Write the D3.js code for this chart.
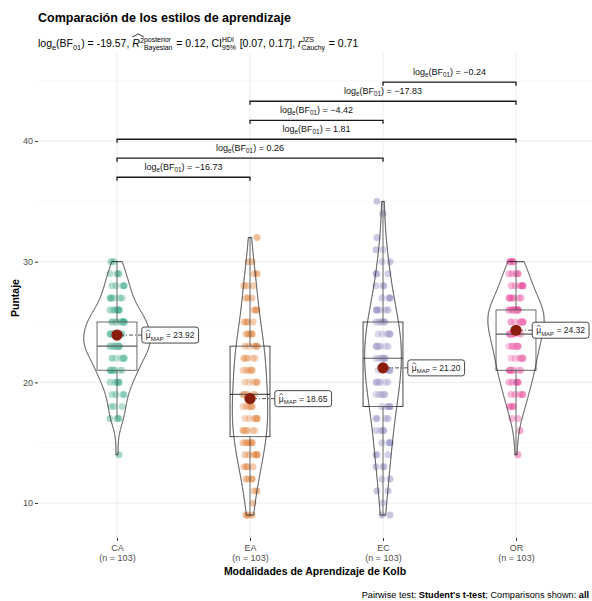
<!DOCTYPE html>
<html>
<head>
<meta charset="utf-8">
<script src="https://cdn.jsdelivr.net/npm/d3@7"></script>
<style>
  body { margin: 0; background: #fff; }
  svg { display: block; }
  text { font-family: "Liberation Sans", Arial, Helvetica, sans-serif; }
</style>
</head>
<body>
<svg id="chart" width="592" height="601"></svg>
<script>
// ---- data ----
const categories = ["CA", "EA", "EC", "OR"];
const groupN = [103, 103, 103, 103];
const palette = ["#1B9E77", "#D95F02", "#7570B3", "#E7298A"];

// observed scores and how many students obtained each one
const caScores = [14, 17, 18, 19, 20, 21, 22, 23, 24, 25, 26, 27, 28, 29, 30];
const caCounts = [1, 4, 3, 4, 6, 9, 9, 16, 12, 14, 8, 6, 5, 4, 2];
const eaScores = [9, 10, 11, 12, 13, 14, 15, 16, 17, 18, 19, 20, 21, 22, 23, 24, 25, 26, 27, 28, 29, 30, 32];
const eaCounts = [3, 1, 2, 4, 4, 6, 6, 7, 8, 7, 7, 6, 7, 6, 6, 5, 4, 3, 3, 3, 2, 2, 1];
const ecScores = [9, 10, 11, 12, 13, 14, 15, 16, 17, 18, 19, 20, 21, 22, 23, 24, 25, 26, 27, 28, 29, 30, 31, 32, 34, 35];
const ecCounts = [2, 1, 2, 2, 3, 3, 4, 4, 4, 6, 6, 7, 7, 8, 8, 7, 6, 6, 4, 3, 3, 2, 2, 1, 1, 1];
const orScores = [14, 16, 17, 18, 19, 20, 21, 22, 23, 24, 25, 26, 27, 28, 29, 30];
const orCounts = [1, 1, 2, 4, 5, 6, 8, 8, 9, 11, 11, 14, 7, 7, 5, 4];

// Bayesian posterior estimates (MAP) of each group mean
const mapMeans = [23.92, 18.65, 21.20, 24.32];

// pairwise comparisons: log_e(BF01) and bracket height (score units)
const pairFrom = ["CA", "CA", "CA", "EA", "EA", "EC"];
const pairTo = ["EA", "EC", "OR", "EC", "OR", "OR"];
const pairLogBF = [-16.73, 0.26, 1.81, -4.42, -17.83, -0.24];
const pairBracketY = [37.0, 38.58, 40.15, 41.72, 43.3, 44.88];

const yTicks = [10, 20, 30, 40];
const yMinorTicks = [15, 25, 35, 45];

// ---- layout ----
const svg = d3.select("#chart");
const W = 592, H = 601;
const panel = { left: 38, right: 592, top: 52, bottom: 538 };
svg.append("rect").attr("width", W).attr("height", H).attr("fill", "#fff");

const x = d3.scalePoint().domain(categories).range([117, 516]);
const step = x.step();
const y = d3.scaleLinear().domain([7.1, 47.38]).range([panel.bottom, panel.top]);

const fmt = v => (v < 0 ? "\u2212" : "") + Math.abs(v).toFixed(2);
const nb = s => s.replace(/ /g, "\u00A0");

// rich text: sequential pieces with sub/superscripts, stacked scripts and hats
function rich(parent, parts, size, fill, stackScale) {
  const g = parent.append("g").attr("fill", fill || "#000");
  let cx = 0, hatStart = 0;
  const len = t => t.node().getComputedTextLength();
  for (const p of parts) {
    if (p.stack) {
      const fs = size * (stackScale || 0.62);
      const a = g.append("text").attr("x", cx).attr("y", -size * 0.45).attr("font-size", fs).text(nb(p.stack[0]));
      const b = g.append("text").attr("x", cx).attr("y", size * 0.32).attr("font-size", fs).text(nb(p.stack[1]));
      cx += Math.max(len(a), len(b)) + size * 0.08;
      continue;
    }
    if (p.hatFrom) hatStart = cx;
    const small = p.sub || p.sup;
    const fs = small ? size * 0.7 : size;
    const dy = p.sub ? size * 0.3 : (p.sup ? -size * 0.42 : 0);
    const t = g.append("text").attr("x", cx).attr("y", dy).attr("font-size", fs).text(nb(p.t));
    if (p.bold) t.attr("font-weight", "bold");
    if (p.italic) t.attr("font-style", "italic");
    const w = len(t);
    if (p.hat) {
      g.append("path")
        .attr("d", `M${cx + 0.5},${-size * 0.78} Q${cx + w / 2},${-size * 1.12} ${cx + w - 0.5},${-size * 0.78}`)
        .attr("fill", "none").attr("stroke", fill || "#000").attr("stroke-width", 0.7);
    }
    cx += w;
    if (p.hatTo) {
      g.append("path")
        .attr("d", `M${hatStart},${-size * 0.95} L${(hatStart + cx) / 2},${-size * 1.25} L${cx},${-size * 0.95}`)
        .attr("fill", "none").attr("stroke", fill || "#000").attr("stroke-width", 0.8);
    }
  }
  g.width = cx;
  return g;
}

// ---- grid ----
const grid = svg.append("g");
grid.selectAll("line.minor").data(yMinorTicks).join("line")
  .attr("x1", panel.left).attr("x2", panel.right)
  .attr("y1", d => y(d)).attr("y2", d => y(d))
  .attr("stroke", "#f3f3f3").attr("stroke-width", 0.6);
grid.selectAll("line.major").data(yTicks).join("line")
  .attr("x1", panel.left).attr("x2", panel.right)
  .attr("y1", d => y(d)).attr("y2", d => y(d))
  .attr("stroke", "#ebebeb").attr("stroke-width", 0.9);
grid.selectAll("line.vert").data(categories).join("line")
  .attr("x1", d => x(d)).attr("x2", d => x(d))
  .attr("y1", panel.top).attr("y2", panel.bottom)
  .attr("stroke", "#ebebeb").attr("stroke-width", 0.9);

// ---- axes ----
const yAxis = svg.append("g").attr("transform", `translate(${panel.left},0)`)
  .call(d3.axisLeft(y).tickValues(yTicks).tickSize(3).tickPadding(2));
yAxis.select(".domain").remove();
yAxis.selectAll(".tick line").attr("stroke", "#333");
yAxis.selectAll(".tick text").attr("fill", "#4d4d4d").attr("font-size", 9)
  .attr("font-family", "Liberation Sans, Arial, sans-serif");

const xAxis = svg.append("g").attr("transform", `translate(0,${panel.bottom})`)
  .call(d3.axisBottom(x).tickSize(3).tickFormat(""));
xAxis.select(".domain").remove();
xAxis.selectAll(".tick line").attr("stroke", "#333");
xAxis.selectAll(".tick").each(function (d, i) {
  const t = d3.select(this).append("text").attr("fill", "#4d4d4d").attr("font-size", 9)
    .attr("text-anchor", "middle").attr("font-family", "Liberation Sans, Arial, sans-serif");
  t.append("tspan").attr("x", 0).attr("y", 13).text(d);
  t.append("tspan").attr("x", 0).attr("y", 23).text(`(n = ${groupN[i]})`);
});

svg.append("text").attr("x", (panel.left + panel.right) / 2).attr("y", 575)
  .attr("text-anchor", "middle").attr("font-size", 10.5).attr("font-weight", "bold")
  .text("Modalidades de Aprendizaje de Kolb");
svg.append("text").attr("transform", "translate(19,298) rotate(-90)")
  .attr("text-anchor", "middle").attr("font-size", 10.5).attr("font-weight", "bold")
  .text("Puntaje");

// ---- groups ----
const scoreSets = [caScores, eaScores, ecScores, orScores];
const countSets = [caCounts, eaCounts, ecCounts, orCounts];
const groups = categories.map((c, i) => {
  const values = [];
  scoreSets[i].forEach((s, j) => { for (let k = 0; k < countSets[i][j]; k++) values.push(s); });
  values.sort(d3.ascending);
  return { cat: c, values, color: palette[i], mean: mapMeans[i], scores: scoreSets[i], counts: countSets[i] };
});

// horizontal spread (px) of points sharing the same score
const jitter = [-3, 4, 1, -6, 6, -2, 5, -5, 2, -7, 7, -4, 3, -1, 2, -6, 6, 0, -3, 7, -7];

const pointLayer = svg.append("g");
groups.forEach((gr, gi) => {
  const pts = [];
  gr.scores.forEach((s, j) => {
    const shift = (s * 7 + gi * 5) % jitter.length;
    for (let k = 0; k < gr.counts[j]; k++) pts.push({ s, off: jitter[(k * 3 + shift) % jitter.length] });
  });
  pointLayer.append("g").selectAll("circle").data(pts).join("circle")
    .attr("cx", d => x(gr.cat) + d.off)
    .attr("cy", d => y(d.s))
    .attr("r", 3.5)
    .attr("fill", gr.color).attr("fill-opacity", 0.4);
});

// box statistics
groups.forEach(gr => {
  const v = gr.values;
  gr.q1 = d3.quantileSorted(v, 0.25);
  gr.med = d3.quantileSorted(v, 0.5);
  gr.q3 = d3.quantileSorted(v, 0.75);
  const iqr = gr.q3 - gr.q1;
  gr.lo = d3.min(v.filter(d => d >= gr.q1 - 1.5 * iqr));
  gr.hi = d3.max(v.filter(d => d <= gr.q3 + 1.5 * iqr));
});

const boxLayer = svg.append("g").attr("stroke", "#333").attr("stroke-width", 0.9);
const boxHalf = 0.15 * step;
groups.forEach(gr => {
  const cx = x(gr.cat);
  boxLayer.append("line").attr("x1", cx).attr("x2", cx).attr("y1", y(gr.q3)).attr("y2", y(gr.hi));
  boxLayer.append("line").attr("x1", cx).attr("x2", cx).attr("y1", y(gr.q1)).attr("y2", y(gr.lo));
  boxLayer.append("rect").attr("x", cx - boxHalf).attr("width", 2 * boxHalf)
    .attr("y", y(gr.q3)).attr("height", y(gr.q1) - y(gr.q3))
    .attr("fill", "#fff").attr("fill-opacity", 0.2);
  boxLayer.append("line").attr("x1", cx - boxHalf).attr("x2", cx + boxHalf)
    .attr("y1", y(gr.med)).attr("y2", y(gr.med)).attr("stroke-width", 1.1);
});

// violins: gaussian kernel density, trimmed to data range, equal-area scaling
const gauss = u => Math.exp(-0.5 * u * u) / Math.sqrt(2 * Math.PI);
groups.forEach(gr => {
  const v = gr.values, n = v.length;
  const sd = d3.deviation(v);
  const spread = Math.min(sd, (gr.q3 - gr.q1) / 1.34);
  const bw = 0.9 * spread * Math.pow(n, -0.2);
  const lo = v[0], hi = v[n - 1];
  gr.dens = d3.range(512).map(i => {
    const t = lo + (hi - lo) * i / 511;
    return { t, d: d3.sum(v, s => gauss((t - s) / bw)) / (n * bw) };
  });
});
const maxDen = d3.max(groups, gr => d3.max(gr.dens, d => d.d));
const violinHalf = 0.25 * step;
const violinLayer = svg.append("g");
groups.forEach(gr => {
  const cx = x(gr.cat);
  const area = d3.area()
    .y(d => y(d.t))
    .x0(d => cx - d.d / maxDen * violinHalf)
    .x1(d => cx + d.d / maxDen * violinHalf);
  violinLayer.append("path").datum(gr.dens).attr("d", area)
    .attr("fill", "#fff").attr("fill-opacity", 0.2)
    .attr("stroke", "#333").attr("stroke-width", 1);
});

// MAP estimates with labels
const meanLayer = svg.append("g");
groups.forEach(gr => {
  const cx = x(gr.cat), cy = y(gr.mean);
  const lg = meanLayer.append("g");
  const seg = lg.append("line");
  const txt = rich(lg, [
    { t: "\u03bc", hat: true },
    { t: "MAP", sub: true },
    { t: " = " + gr.mean.toFixed(2) }
  ], 8.5, "#222");
  const w = txt.width + 8, h = 16;
  let lx = cx + 0.4 * step;
  lx = Math.min(lx, panel.right - 3 - w / 2);
  const left = lx - w / 2;
  txt.attr("transform", `translate(${left + 4},${cy + 3})`);
  lg.insert("rect", "g").attr("x", left).attr("y", cy - h / 2).attr("width", w).attr("height", h)
    .attr("rx", 2.5).attr("fill", "#fff").attr("stroke", "#333").attr("stroke-width", 0.9);
  seg.attr("x1", cx).attr("x2", left).attr("y1", cy).attr("y2", cy)
    .attr("stroke", "#222").attr("stroke-width", 0.8).attr("stroke-dasharray", "1,2,4,2");
  meanLayer.append("circle").attr("cx", cx).attr("cy", cy).attr("r", 5.6).attr("fill", "#8b1d0c");
});

// pairwise brackets
const br = svg.append("g");
pairFrom.forEach((a, i) => {
  const x1 = x(a), x2 = x(pairTo[i]), yb = y(pairBracketY[i]);
  br.append("path")
    .attr("d", `M${x1},${yb + 3.5} L${x1},${yb} L${x2},${yb} L${x2},${yb + 3.5}`)
    .attr("fill", "none").attr("stroke", "#1a1a1a").attr("stroke-width", 1.3);
  const lab = rich(br, [
    { t: "log" }, { t: "e", sub: true }, { t: "(BF" }, { t: "01", sub: true },
    { t: ") = " + fmt(pairLogBF[i]) }
  ], 9, "#111");
  lab.attr("transform", `translate(${(x1 + x2) / 2 - lab.width / 2},${yb - 7.5})`);
});

// title, subtitle, caption
svg.append("text").attr("x", panel.left).attr("y", 22)
  .attr("font-size", 12.5).attr("font-weight", "bold").text("Comparación de los estilos de aprendizaje");

const sub = rich(svg, [
  { t: "log" }, { t: "e", sub: true }, { t: "(BF" }, { t: "01", sub: true }, { t: ") = -19.57, " },
  { t: "R", italic: true, hatFrom: true }, { t: "2", sup: true, hatTo: true },
  { stack: ["posterior", "Bayesian"] }, { t: " = 0.12, CI" },
  { stack: ["HDI", "95%"] }, { t: " [0.07, 0.17], " },
  { t: "r", italic: true }, { stack: ["JZS", "Cauchy"] }, { t: " = 0.71" }
], 10.5, "#000", 0.66);
sub.attr("transform", `translate(${panel.left},47)`);

const cap = rich(svg, [
  { t: "Pairwise test: " }, { t: "Student's t-test", bold: true },
  { t: "; Comparisons shown: " }, { t: "all", bold: true }
], 9.2, "#000");
cap.attr("transform", `translate(${W - 3 - cap.width},598)`);
</script>
</body>
</html>
